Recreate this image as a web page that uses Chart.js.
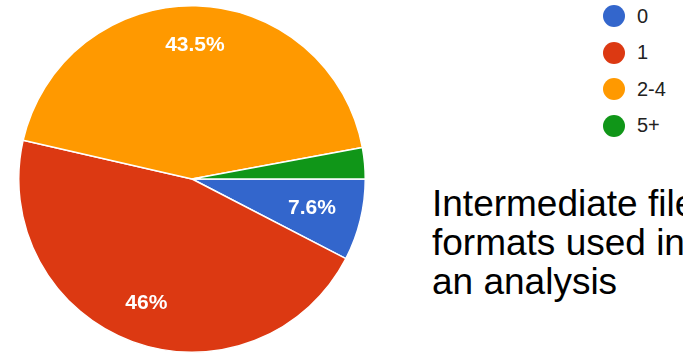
<!DOCTYPE html>
<html lang="en">
<head>
    <meta charset="UTF-8">
    <title>Intermediate file formats</title>
    <script src="https://cdn.jsdelivr.net/npm/chart.js"></script>
    <style>
        html, body {
            margin: 0;
            padding: 0;
            background: #fff;
            width: 683px;
            height: 353px;
            overflow: hidden;
            font-family: Arial, "Liberation Sans", sans-serif;
        }
        .pie-box {
            position: absolute;
            left: 0;
            top: 0;
            width: 384px;
            height: 353px;
        }
        .legend {
            position: absolute;
            left: 603px;
            top: -2px;
        }
        .legend-item {
            display: flex;
            align-items: center;
            height: 36.5px;
            font-size: 20px;
            color: #222;
        }
        .legend-item span.dot {
            width: 22px;
            height: 22px;
            border-radius: 50%;
            margin-right: 12px;
        }
        .caption {
            position: absolute;
            left: 432px;
            top: 184px;
            font-size: 37px;
            line-height: 39px;
            color: #000;
            white-space: nowrap;
        }
    </style>
</head>
<body>
    <div class="pie-box"><canvas id="pieChart"></canvas></div>
    <div class="legend" id="legend"></div>
    <div class="caption">Intermediate file<br>formats used in<br>an analysis</div>

    <script>
        // categories and their share (percent)
        const labels = ['0', '1', '2-4', '5+'];
        const shares = [7.6, 46, 43.5, 2.9];
        const colors = ['#3366cc', '#dc3912', '#ff9900', '#109618'];

        // legend
        const legend = document.getElementById('legend');
        labels.forEach((lab, i) => {
            const row = document.createElement('div');
            row.className = 'legend-item';
            row.innerHTML = `<span class="dot" style="background:${colors[i]}"></span>${lab}`;
            legend.appendChild(row);
        });

        // percent labels inside the slices, pulled inward if the box would poke out
        const sliceLabels = {
            id: 'sliceLabels',
            afterDatasetsDraw(chart) {
                const ctx = chart.ctx;
                const meta = chart.getDatasetMeta(0);
                ctx.save();
                ctx.fillStyle = '#fff';
                ctx.font = 'bold 21px Arial, "Liberation Sans", sans-serif';
                ctx.textAlign = 'center';
                ctx.textBaseline = 'middle';
                meta.data.forEach((arc, i) => {
                    const v = shares[i];
                    if (v < 5) return;
                    const txt = v + '%';
                    const p = arc.getProps(['x', 'y', 'startAngle', 'endAngle', 'outerRadius'], true);
                    const mid = (p.startAngle + p.endAngle) / 2;
                    const hw = ctx.measureText(txt).width / 2, hh = 8;
                    const limit = p.outerRadius * 0.86;
                    let r = p.outerRadius * 0.77;
                    while (r > 0) {
                        const cx = Math.cos(mid) * r, cy = Math.sin(mid) * r;
                        const fx = Math.abs(cx) + hw, fy = Math.abs(cy) + hh;
                        if (Math.hypot(fx, fy) <= limit) break;
                        r -= 1;
                    }
                    ctx.fillText(txt, p.x + Math.cos(mid) * r, p.y + Math.sin(mid) * r);
                });
                ctx.restore();
            }
        };

        new Chart(document.getElementById('pieChart'), {
            type: 'pie',
            data: {
                labels: labels,
                datasets: [{
                    data: shares,
                    backgroundColor: colors,
                    borderColor: '#fff',
                    borderWidth: 1.5
                }]
            },
            options: {
                responsive: true,
                maintainAspectRatio: false,
                animation: false,
                rotation: 90,
                layout: { padding: { top: 5 } },
                plugins: {
                    legend: { display: false },
                    tooltip: { enabled: false }
                }
            },
            plugins: [sliceLabels]
        });
    </script>
</body>
</html>
